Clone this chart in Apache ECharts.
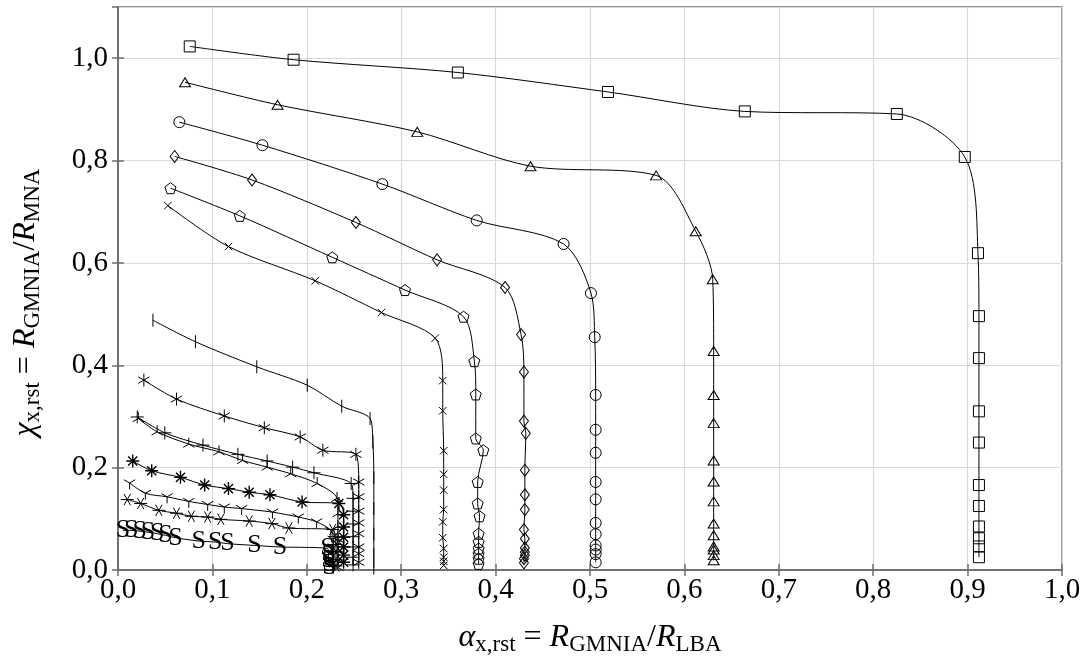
<!DOCTYPE html>
<html>
<head>
<meta charset="utf-8">
<script src="https://cdn.jsdelivr.net/npm/echarts@6/dist/echarts.min.js"></script>
<style>
html,body{margin:0;padding:0;background:#fff;}
#chart{width:1090px;height:663px;}
</style>
</head>
<body>
<div id="chart"></div>
<script>
// ---- data (alpha = x, chi = y) ----
const squaresX = [0.076,0.186,0.360,0.519,0.664,0.825,0.897,0.911,0.912,0.912,0.912,0.912,0.912,0.912,0.912,0.912,0.912,0.912];
const squaresY = [1.023,0.997,0.972,0.934,0.896,0.891,0.807,0.619,0.496,0.414,0.310,0.249,0.166,0.125,0.085,0.062,0.046,0.025];

const trianglesX = [0.071,0.169,0.317,0.437,0.570,0.612,0.630,0.631,0.631,0.631,0.631,0.631,0.631,0.631,0.631,0.631,0.631,0.631,0.631];
const trianglesY = [0.953,0.909,0.856,0.789,0.771,0.662,0.568,0.428,0.342,0.287,0.214,0.173,0.134,0.091,0.068,0.046,0.040,0.029,0.019];

const circlesX = [0.065,0.153,0.280,0.380,0.472,0.501,0.505,0.506,0.506,0.506,0.506,0.506,0.506,0.506,0.506,0.506,0.506,0.506];
const circlesY = [0.875,0.830,0.754,0.683,0.637,0.541,0.455,0.342,0.274,0.229,0.172,0.138,0.092,0.070,0.048,0.040,0.031,0.015];

const diamondsX = [0.060,0.142,0.252,0.338,0.410,0.427,0.430,0.430,0.432,0.431,0.431,0.431,0.430,0.431,0.431,0.431,0.431,0.430,0.430];
const diamondsY = [0.808,0.762,0.679,0.606,0.552,0.460,0.387,0.291,0.267,0.195,0.147,0.118,0.079,0.061,0.043,0.035,0.029,0.022,0.014];

const pentagonsX = [0.0556,0.129,0.227,0.304,0.366,0.3775,0.379,0.379,0.387,0.381,0.381,0.383,0.382,0.382,0.382,0.382,0.382,0.382];
const pentagonsY = [0.746,0.692,0.611,0.547,0.495,0.408,0.343,0.257,0.234,0.172,0.130,0.105,0.071,0.055,0.042,0.032,0.022,0.012];

const crossesX = [0.0528,0.117,0.209,0.279,0.336,0.344,0.344,0.345,0.345,0.345,0.345,0.344,0.344,0.345,0.345,0.345,0.345];
const crossesY = [0.712,0.632,0.565,0.503,0.453,0.370,0.311,0.233,0.187,0.156,0.118,0.094,0.063,0.042,0.025,0.017,0.009];

const barsX = [0.037,0.082,0.147,0.2005,0.237,0.267,0.270,0.271,0.271,0.271,0.271,0.271];
const barsY = [0.488,0.446,0.397,0.361,0.320,0.296,0.250,0.180,0.120,0.070,0.030,0.004];

const asterisksX = [0.0274,0.062,0.1126,0.155,0.193,0.217,0.252,0.255,0.255,0.255,0.255,0.255,0.255,0.255,0.255];
const asterisksY = [0.371,0.334,0.301,0.278,0.260,0.234,0.226,0.172,0.143,0.115,0.092,0.071,0.045,0.032,0.015];

const plusesX = [0.0204,0.0496,0.090,0.127,0.158,0.185,0.2076,0.247,0.249,0.249,0.249,0.249,0.249,0.249,0.249];
const plusesY = [0.299,0.268,0.244,0.226,0.213,0.201,0.190,0.169,0.140,0.115,0.090,0.065,0.045,0.025,0.010];

const mercedesX = [0.0215,0.0415,0.075,0.107,0.132,0.158,0.183,0.211,0.232,0.233,0.233,0.233,0.233,0.233,0.233];
const mercedesY = [0.296,0.270,0.246,0.231,0.214,0.201,0.188,0.169,0.140,0.110,0.085,0.060,0.040,0.020,0.005];

const starsX = [0.0156,0.0357,0.0662,0.0918,0.117,0.139,0.161,0.195,0.234,0.239,0.239,0.239,0.239,0.239,0.239];
const starsY = [0.213,0.194,0.181,0.166,0.159,0.152,0.147,0.133,0.130,0.108,0.084,0.064,0.045,0.029,0.015];

const tristarsX = [0.0123,0.029,0.052,0.075,0.095,0.1126,0.131,0.1636,0.191,0.2104,0.2255,0.228,0.228,0.228,0.228,0.228];
const tristarsY = [0.170,0.150,0.143,0.134,0.128,0.123,0.120,0.113,0.1035,0.094,0.0775,0.060,0.045,0.030,0.015,0.005];

const hastX = [0.0098,0.024,0.0433,0.062,0.0777,0.095,0.109,0.139,0.163,0.181,0.2275,0.230,0.231,0.231,0.231,0.231];
const hastY = [0.1376,0.130,0.1166,0.111,0.105,0.1035,0.099,0.0957,0.0906,0.082,0.079,0.065,0.050,0.035,0.020,0.008];

const sX = [0.0053,0.014,0.0229,0.0317,0.0415,0.0503,0.0609,0.0855,0.103,0.116,0.1445,0.1717,0.222,0.223,0.223,0.224,0.224];
const sY = [0.0775,0.0775,0.076,0.074,0.071,0.0677,0.063,0.0566,0.0546,0.0515,0.048,0.045,0.042,0.030,0.020,0.012,0.005];

const xTickStep = 0.1;
const yTickStep = 0.2;

// ---- helpers ----
function zip(xs, ys){ return xs.map((x,i)=>[x, ys[i]]); }
function fmt(v){ return v.toFixed(1).replace('.', ','); }
const BOX = 'M-6,-6M6,6';
const P = {
  pentagon: 'path://M0,-10L9.51,-3.09L5.88,8.09L-5.88,8.09L-9.51,-3.09Z',
  cross: 'path://' + BOX + 'M-4.5,-4.5L4.5,4.5M-4.5,4.5L4.5,-4.5',
  bar: 'path://' + BOX + 'M0,-6L0,6',
  asterisk: 'path://' + BOX + 'M0,-6L0,6M-5.2,-3L5.2,3M-5.2,3L5.2,-3',
  plus: 'path://' + BOX + 'M-6,0L6,0M0,-6L0,6',
  mercedes: 'path://' + BOX + 'M0,0L0,-6M0,0L-5.2,3M0,0L5.2,3',
  star: 'path://' + BOX + 'M0,-6L0,6M-6,0L6,0M-4.2,-4.2L4.2,4.2M-4.2,4.2L4.2,-4.2',
  tristar: 'path://' + BOX + 'M0,0L0,6M0,0L-5.2,-3M0,0L5.2,-3',
  hast: 'path://' + BOX + 'M-6,0L6,0M-3,-5.2L3,5.2M-3,5.2L3,-5.2'
};

function mk(name, xs, ys, symbol, size, bw){
  return {
    name: name, type: 'line', data: zip(xs, ys), smooth: 0.3,
    symbol: symbol, symbolSize: size,
    lineStyle: {color: '#000', width: 1},
    itemStyle: {color: 'rgba(0,0,0,0)', borderColor: '#000', borderWidth: bw || 1},
    emphasis: {disabled: true}, z: 3
  };
}

const FONT = 'Liberation Serif';
const rich = {
  t: {fontFamily: FONT, fontSize: 32, color: '#000', lineHeight: 36},
  i: {fontFamily: FONT, fontSize: 32, fontStyle: 'italic', color: '#000', lineHeight: 36},
  s: {fontFamily: FONT, fontSize: 23, color: '#000', lineHeight: 23, padding: [13, 0, 0, 0]}
};

const series = [
  mk('squares', squaresX, squaresY, 'rect', 11),
  mk('triangles', trianglesX, trianglesY, 'triangle', [11, 9]),
  mk('circles', circlesX, circlesY, 'circle', 11),
  mk('diamonds', diamondsX, diamondsY, 'diamond', [9, 12]),
  mk('pentagons', pentagonsX, pentagonsY, P.pentagon, 11),
  mk('crosses', crossesX, crossesY, P.cross, 10),
  mk('bars', barsX, barsY, P.bar, 13),
  mk('asterisks', asterisksX, asterisksY, P.asterisk, 13),
  mk('pluses', plusesX, plusesY, P.plus, 13),
  mk('mercedes', mercedesX, mercedesY, P.mercedes, 13),
  mk('stars', starsX, starsY, P.star, 13, 1.4),
  mk('tristars', tristarsX, tristarsY, P.tristar, 13),
  mk('hast', hastX, hastY, P.hast, 13),
  {
    name: 'S', type: 'line', data: zip(sX, sY), smooth: 0.3,
    symbol: 'circle', symbolSize: 2,
    lineStyle: {color: '#000', width: 1},
    itemStyle: {color: 'rgba(0,0,0,0)', borderWidth: 0},
    label: {show: true, position: 'inside', formatter: 'S', fontFamily: FONT, fontSize: 26, color: '#000'},
    emphasis: {disabled: true}, z: 3
  }
];

const axisLineStyle = {color: '#6e6e6e', width: 1.5};
const chart = echarts.init(document.getElementById('chart'), null, {renderer: 'canvas'});
chart.setOption({
  animation: false,
  backgroundColor: '#fff',
  grid: {left: 114, right: 28, top: 7, bottom: 93, show: true, borderColor: '#6e6e6e', borderWidth: 1.5, backgroundColor: 'transparent'},
  xAxis: [{
    type: 'value', min: 0, max: 1, interval: xTickStep,
    axisLine: {show: true, lineStyle: axisLineStyle},
    axisTick: {show: true, inside: true, length: 6, lineStyle: {color: '#6e6e6e', width: 1.5}},
    splitLine: {show: true, lineStyle: {color: '#d9d9d9', width: 1.2}},
    axisLabel: {formatter: fmt, fontFamily: FONT, fontSize: 29, color: '#000', margin: 6},
    name: '{i|α}{s|x,rst}{t| = }{i|R}{s|GMNIA}{t|/}{i|R}{s|LBA}',
    nameLocation: 'middle', nameGap: 50,
    nameTextStyle: {rich: rich}
  }, {
    type: 'value', min: 0, max: 1, interval: xTickStep, position: 'top',
    axisLine: {show: true, lineStyle: axisLineStyle},
    axisTick: {show: true, inside: true, length: 6, lineStyle: {color: '#6e6e6e', width: 1.5}},
    splitLine: {show: false}, axisLabel: {show: false}
  }],
  yAxis: [{
    type: 'value', min: 0, max: 1.1, interval: yTickStep,
    axisLine: {show: true, lineStyle: axisLineStyle},
    axisTick: {show: true, inside: true, length: 6, lineStyle: {color: '#6e6e6e', width: 1.5}},
    splitLine: {show: true, lineStyle: {color: '#d9d9d9', width: 1.2}},
    axisLabel: {formatter: fmt, fontFamily: FONT, fontSize: 29, color: '#000', margin: 10, showMaxLabel: false},
    name: '{i|χ}{s|x,rst}{t| = }{i|R}{s|GMNIA}{t|/}{i|R}{s|MNA}',
    nameLocation: 'middle', nameGap: 74, nameRotate: 90,
    nameTextStyle: {rich: rich, padding: [0, 28, 0, 0]}
  }, {
    type: 'value', min: 0, max: 1.1, interval: yTickStep, position: 'right',
    axisLine: {show: true, lineStyle: axisLineStyle},
    axisTick: {show: true, inside: true, length: 6, lineStyle: {color: '#6e6e6e', width: 1.5}},
    splitLine: {show: false}, axisLabel: {show: false}
  }],
  series: series
});
</script>
</body>
</html>
